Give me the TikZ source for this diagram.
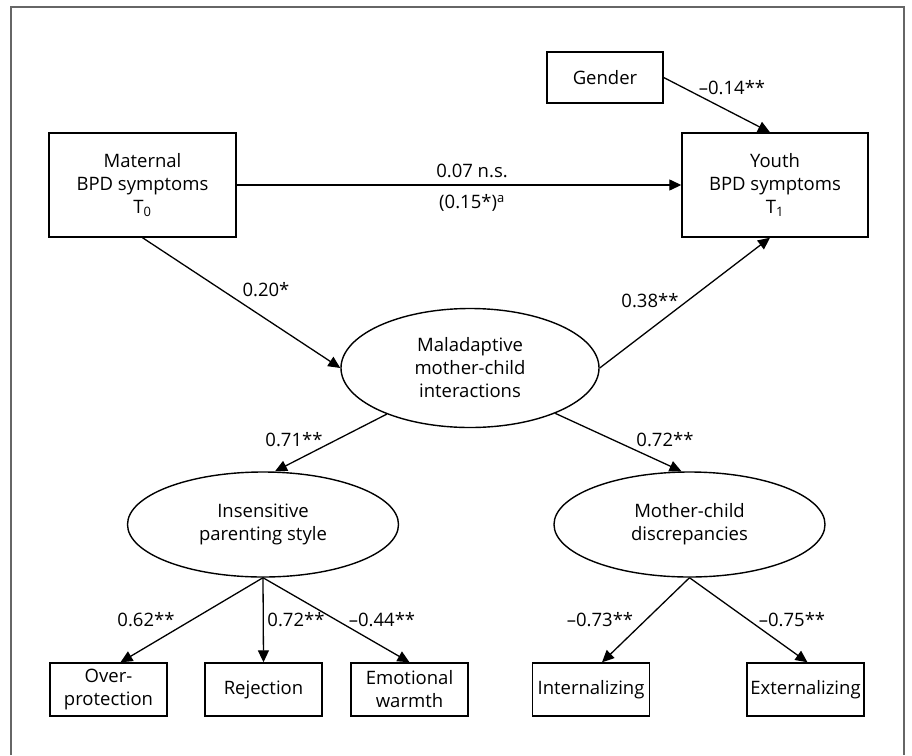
\documentclass[tikz,border=0pt]{standalone}
\usepackage{fontspec}
\setmainfont{Open Sans}
\usetikzlibrary{arrows.meta,shapes.geometric,calc}
\begin{document}
\begin{tikzpicture}[x=1pt,y=-1pt,
  font=\fontsize{18.5}{23}\selectfont,
  every node/.style={inner sep=0pt, text=black},
  box/.style={draw, line width=1.4pt, align=center},
  oval/.style={draw, ellipse, line width=1.4pt, align=center},
  conn/.style={line width=1.3pt, -{Triangle[length=12pt,width=11pt]}},
  lbl/.style={}
]
\useasboundingbox (0,0) rectangle (912,755);
\draw[line width=2pt, black!60] (11,755) -- (11,7) -- (904,7) -- (904,755);

\node[box, minimum width=116pt, minimum height=51pt] (gen) at (605,77.5) {Gender};
\node[box, minimum width=187pt, minimum height=104pt] (mat) at (142.5,185) {Maternal\\BPD symptoms\\T\textsubscript{0}};
\node[box, minimum width=186pt, minimum height=104pt] (you) at (775,185) {Youth\\BPD symptoms\\T\textsubscript{1}};
\node[oval, minimum width=258pt, minimum height=119pt] (mal) at (470,368) {Maladaptive\\mother-child\\interactions};
\node[oval, minimum width=271pt, minimum height=105pt] (ins) at (263,524.5) {Insensitive\\parenting style};
\node[oval, minimum width=271pt, minimum height=105pt] (mcd) at (689.5,524.5) {Mother-child\\discrepancies};

\node[box, minimum width=117pt, minimum height=53pt] (ovp) at (108.5,689.5) {Over-\\protection};
\node[box, minimum width=117pt, minimum height=53pt] (rej) at (263.5,689.5) {Rejection};
\node[box, minimum width=117pt, minimum height=53pt] (emo) at (409.5,689.5) {Emotional\\warmth};
\node[box, minimum width=117pt, minimum height=53pt] (int) at (591,689.5) {Internalizing};
\node[box, minimum width=117pt, minimum height=53pt] (ext) at (805.5,689.5) {Externalizing};

\draw[conn] (mat.east) -- (you.west);
\draw[conn] (gen.east) -- ($(you.north)+(-5,0)$);
\draw[conn] (mat.south) -- (mal.west);
\draw[conn] (mal.east) -- ($(you.south)+(-5,0)$);
\draw[conn] (mal.209) -- ($(ins.north)+(12,0)$);
\draw[conn] (mal.332) -- ($(mcd.north)+(-8,0)$);
\draw[conn] (ins.south) -- ($(ovp.north)+(12,0)$);
\draw[conn] (ins.south) -- (rej.north);
\draw[conn] (ins.south) -- (emo.north);
\draw[conn] (mcd.south) -- ($(int.north)+(11,0)$);
\draw[conn] (mcd.south) -- ($(ext.north)+(2,0)$);

\node[lbl] (l1) at (472,171) {0.07 n.s.};
\node[lbl] (l2) at (472,203) {(0.15*)\textsuperscript{a}};
\node[lbl] (l3) at (732,88) {–0.14**};
\node[lbl] (l4) at (266,290) {0.20*};
\node[lbl] (l5) at (650,301) {0.38**};
\node[lbl] (l6) at (294,440) {0.71**};
\node[lbl] (l7) at (665,440) {0.72**};
\node[lbl] (l8) at (146,620) {0.62**};
\node[lbl] (l9) at (296,620) {0.72**};
\node[lbl] (l10) at (382,620) {–0.44**};
\node[lbl] (l11) at (600,620) {–0.73**};
\node[lbl] (l12) at (792,620) {–0.75**};
\end{tikzpicture}
\end{document}
